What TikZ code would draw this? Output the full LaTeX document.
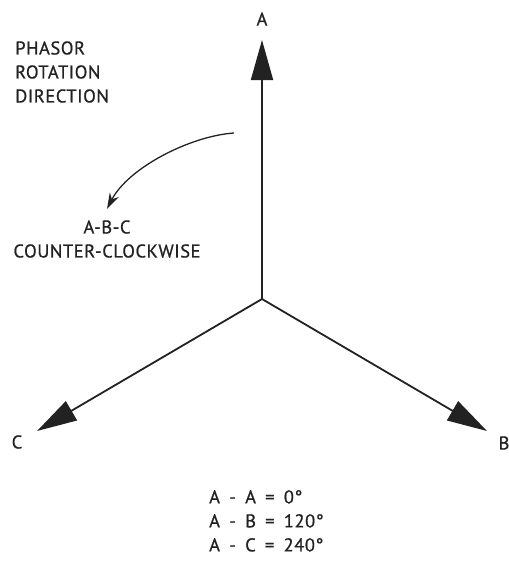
\documentclass[tikz,border=0pt]{standalone}
\usepackage{fontspec}
\setmainfont{PT Sans}[FakeBold=0.8,LetterSpace=3]
\usetikzlibrary{arrows.meta}
\definecolor{ink}{HTML}{222222}
\begin{document}
\begin{tikzpicture}[x=1pt,y=-1pt,
  phasor/.style={draw=ink,line width=1.8pt,-{Triangle[length=40pt,width=22pt]}},
  rotarrow/.style={draw=ink,line width=1.3pt,-{Stealth[length=16pt,width=10pt]}},
  lbl/.style={text=ink,font=\fontsize{18.5}{24}\selectfont,inner sep=0pt}]
\useasboundingbox (0,0) rectangle (509,563);
\coordinate (O) at (262,299);
\coordinate (Atip) at (262,40);
\coordinate (Btip) at (487,431);
\coordinate (Ctip) at (37,431);
\draw[phasor] (O) -- (Atip);
\draw[phasor] (O) -- (Btip);
\draw[phasor] (O) -- (Ctip);
\node[lbl] (A) at (262,19) {A};
\node[lbl] (B) at (504,443) {B};
\node[lbl] (C) at (17,442) {C};
\node[lbl,anchor=west,align=left] (title) at (15,72) {PHASOR\\ROTATION\\DIRECTION};
\coordinate (rs) at (234,133);
\coordinate (re) at (107,209);
\draw[rotarrow] (rs) .. controls (190,136) and (128,168) .. (re);
\node[lbl,align=center] (dir) at (107,239) {A-B-C\\COUNTER-CLOCKWISE};
\node[lbl,anchor=north west,align=left] (angles) at (209,490) {A\enspace-\enspace A\enspace=\enspace 0°\\A\enspace-\enspace B\enspace=\enspace 120°\\A\enspace-\enspace C\enspace=\enspace 240°};
\end{tikzpicture}
\end{document}
